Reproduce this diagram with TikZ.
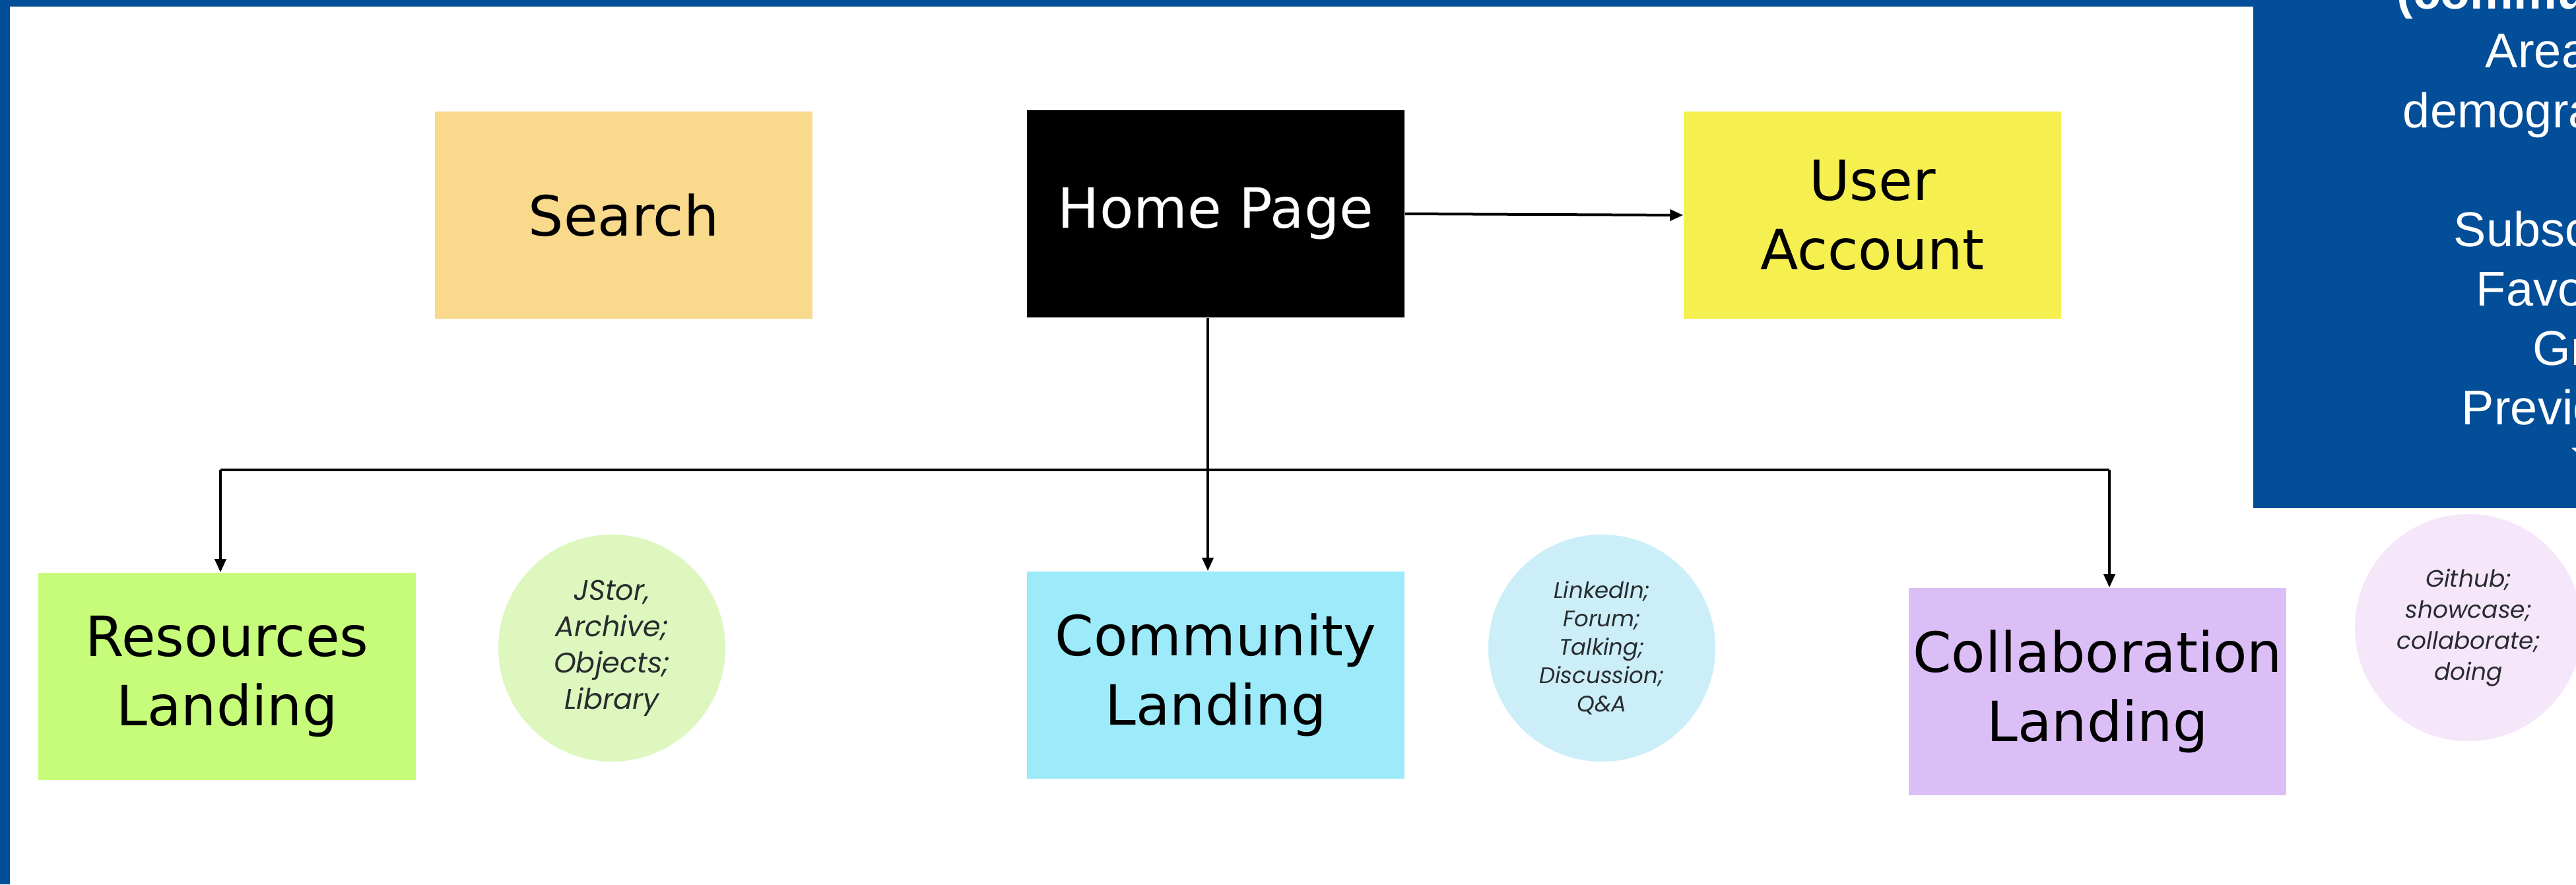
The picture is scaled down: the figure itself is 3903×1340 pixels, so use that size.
\documentclass[tikz,border=0pt]{standalone}
\usepackage{fontspec}
\setmainfont{DejaVu Sans}
\newfontfamily\panelfont{Liberation Sans}
\newfontfamily\notefont{Poppins}
\usetikzlibrary{arrows.meta}
\definecolor{frameblue}{RGB}{2,78,152}
\definecolor{searchfill}{RGB}{249,217,139}
\definecolor{accountfill}{RGB}{246,239,80}
\definecolor{resfill}{RGB}{198,252,121}
\definecolor{comfill}{RGB}{156,234,250}
\definecolor{collabfill}{RGB}{220,190,247}
\definecolor{resnote}{RGB}{221,247,191}
\definecolor{comnote}{RGB}{203,238,249}
\definecolor{collabnote}{RGB}{246,230,250}
\definecolor{notetext}{RGB}{40,44,46}
\begin{document}
\begin{tikzpicture}[x=0.25pt,y=-0.25pt,
  pagebox/.style={rectangle, minimum width=143pt, minimum height=78.5pt,
    inner sep=0pt, align=center, font=\fontsize{21}{26.25}\selectfont},
  note/.style={circle, minimum size=86pt, inner sep=0pt, align=center,
    text=notetext},
  conn/.style={line width=1pt, -{Triangle[length=5pt,width=4.2pt]}},
  plain/.style={line width=1pt},
  paneltext/.style={text=white, inner sep=0pt, anchor=base west,
    font=\panelfont\fontsize{18.5}{22.5}\selectfont}]
\useasboundingbox (0,0) rectangle (3903,1340);
\clip (0,0) rectangle (3903,1340);
\fill[white] (0,0) rectangle (3903,1340);

% page frame
\fill[frameblue] (0,0) rectangle (3903,10);
\fill[frameblue] (0,0) rectangle (15,1340);

% top row
\node[pagebox, fill=searchfill] (search) at (945,326) {Search};
\node[pagebox, fill=black, text=white] (home) at (1842,324) {Home Page};
\node[pagebox, fill=accountfill] (account) at (2837,326) {User\\Account};

% landing pages
\node[pagebox, fill=resfill] (res) at (344,1025) {Resources\\Landing};
\node[pagebox, fill=comfill] (com) at (1842,1023) {Community\\Landing};
\node[pagebox, fill=collabfill] (collab) at (3178,1048) {Collaboration\\Landing};

% notes beside each landing page
\node[note, fill=resnote, font=\notefont\itshape\fontsize{10.75}{13.75}\selectfont]
  (resn) at (927,982) {JStor,\\Archive;\\Objects;\\Library};
\node[note, fill=comnote, font=\notefont\itshape\fontsize{8.5}{10.75}\selectfont]
  (comn) at (2427,982) {LinkedIn;\\Forum;\\Talking;\\Discussion;\\Q\&A};
\node[note, fill=collabnote, font=\notefont\itshape\fontsize{9}{11.75}\selectfont]
  (collabn) at (3740,951) {Github;\\showcase;\\collaborate;\\doing};

% connectors
\coordinate (trunk) at (1830,712);
\coordinate (busL) at (334,712);
\coordinate (busR) at (3196,712);
\draw[conn] (home.east) -- (account.west);
\draw[conn] (home.south -| trunk) -- (com.north -| trunk);
\draw[plain] (busL) -- (busR);
\draw[conn] (busL) -- (busL |- res.north);
\draw[conn] (busR) -- (busR |- collab.north);

% profile panel
\fill[frameblue] (3414,0) rectangle (3903,770);
\node[paneltext, font=\panelfont\bfseries\fontsize{18.5}{22.5}\selectfont] (p0) at (3631,13) {(community profile)};
\node[paneltext] (p1) at (3765,102) {Area of interest};
\node[paneltext] (p2) at (3640,193) {demographics};
\node[paneltext] (p3) at (3717,373) {Subscriptions};
\node[paneltext] (p4) at (3751,463) {Favorites};
\node[paneltext] (p5) at (3837,553) {Groups};
\node[paneltext] (p6) at (3729,643) {Previous activity};
\node[paneltext] (p7) at (3893,733) {``more''};
\end{tikzpicture}
\end{document}
